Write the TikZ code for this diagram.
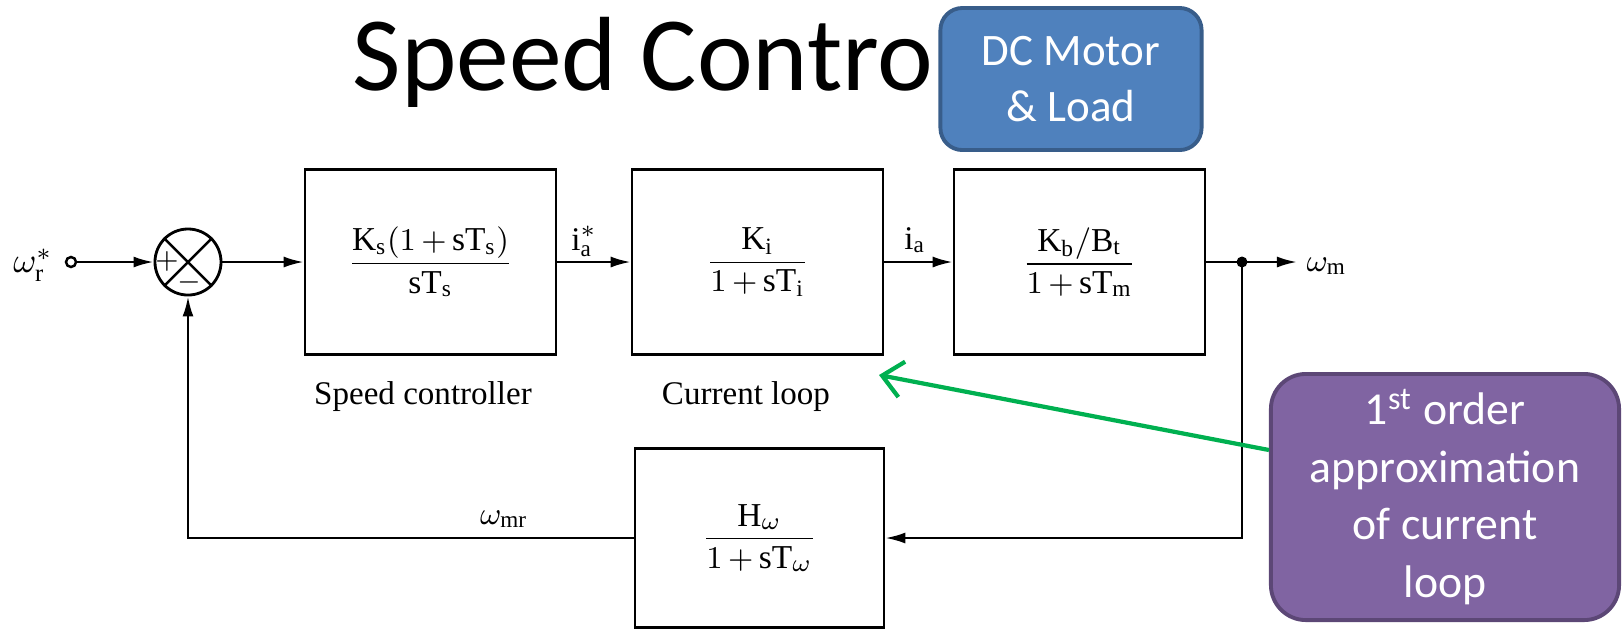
\documentclass[tikz,border=0pt]{standalone}
\usepackage{fontspec}
\setmainfont{Liberation Serif}
\newfontfamily\calibri{Carlito}
\usetikzlibrary{arrows.meta,calc}
\definecolor{dcblue}{HTML}{4F81BD}
\definecolor{dcblueb}{HTML}{385D8A}
\definecolor{purp}{HTML}{8064A2}
\definecolor{purpb}{HTML}{5C4776}
\definecolor{grn}{HTML}{00B050}
\newcommand{\rmx}[1]{\mathrm{#1}}
\newcommand{\pl}{\mathord{\,+\,}}
\begin{document}
\begin{tikzpicture}[x=0.01cm,y=-0.01cm,
  blk/.style={draw, line width=0.7pt, inner sep=0pt, font=\fontsize{9.5}{11}\selectfont},
  lbl/.style={inner sep=0pt, font=\fontsize{9.4}{11}\selectfont},
  sig/.style={line width=0.7pt, -{Latex[length=2mm,width=1.1mm]}},
  wire/.style={line width=0.7pt},
  callout/.style={rounded corners=3mm, line width=1.1pt, text=white, align=center, inner sep=0pt},
]
\useasboundingbox (0,0) rectangle (1623,629);

% title
\node[anchor=base west, inner sep=0pt, font=\calibri\fontsize{30}{36}\selectfont] (title) at (352,90) {Speed Contro};

% DC motor box
\node[callout, rounded corners=2.2mm, fill=dcblue, draw=dcblueb, minimum width=26.1mm, minimum height=14.2mm,
      font=\calibri\fontsize{12.8}{16}\selectfont] (dc) at (1071,79) {DC Motor\\\& Load};

% block diagram
\node[circle, draw, line width=0.7pt, inner sep=0pt, minimum size=1mm] (in) at (71,262) {};
\node[lbl, anchor=center, font=\fontsize{10}{12}\selectfont] (wr) at (33,265) {$\omega_{\rmx{r}}^{*}$};
\node[circle, draw, line width=0.8pt, inner sep=0pt, minimum size=6.6mm] (sum) at (188,262) {};
\draw[wire] (sum.north west) -- (sum.south east) (sum.north east) -- (sum.south west);
\node[lbl] (plus) at (167,261) {\fontsize{8}{9}\selectfont$+$};
\node[lbl] (minus) at (189,282) {\fontsize{8}{9}\selectfont$-$};

\node[blk, minimum width=25.1mm, minimum height=18.5mm] (sc) at (430.5,262)
  {$\displaystyle\frac{\rmx{K}_{\rmx{s}}(1\pl\rmx{sT}_{\rmx{s}})}{\rmx{sT}_{\rmx{s}}}$};
\node[blk, minimum width=25.1mm, minimum height=18.5mm] (cl) at (757.5,262)
  {$\displaystyle\frac{\rmx{K}_{\rmx{i}}}{1\pl\rmx{sT}_{\rmx{i}}}$};
\node[blk, minimum width=25.1mm, minimum height=18.5mm] (mo) at (1079.5,262)
  {$\displaystyle\frac{\rmx{K}_{\rmx{b}}/\rmx{B}_{\rmx{t}}}{1\pl\rmx{sT}_{\rmx{m}}}$};
\node[blk, minimum width=24.9mm, minimum height=17.9mm] (fb) at (759.5,538)
  {$\displaystyle\frac{\rmx{H}_{\omega}}{1\pl\rmx{sT}_{\omega}}$};

\node[lbl] (scl) at (423,397) {Speed controller};
\node[lbl] (cll) at (746,397) {Current loop};
\node[lbl] (ias) at (584,241) {$\rmx{i}_{\rmx{a}}^{*}$};
\node[lbl] (ia) at (915,240) {$\rmx{i}_{\rmx{a}}$};
\node[lbl] (wmr) at (504,519) {$\omega_{\rmx{mr}}$};

\node[circle, fill, inner sep=0pt, minimum size=1.1mm] (jn) at (1242,262) {};
\coordinate (out) at (1297,262);
\node[lbl, anchor=west] (wm) at (1306,266) {$\omega_{\rmx{m}}$};

\draw[sig] (in) -- (sum);
\draw[sig] (sum) -- (sc);
\draw[sig] (sc) -- (cl);
\draw[sig] (cl) -- (mo);
\draw[wire] (mo.east) -- (jn.center);
\draw[sig] (jn.center) -- (out);
\draw[sig] (jn.center) |- (fb.east);
\draw[sig] (fb.west) -| (sum.south);

% callout
\node[callout, rounded corners=3.5mm, fill=purp, draw=purpb, minimum width=34.8mm, minimum height=24.6mm,
      font=\calibri\fontsize{13}{16.4}\selectfont] (pc) at (1445,497)
  {1\textsuperscript{st} order\\approximation\\of current\\loop};
\coordinate (tip) at (879,375);
\draw[grn, line width=1.2pt, -{Straight Barb[length=2mm,width=3.6mm]}] ($(pc.west)+(0,-47)$) -- (tip);
\end{tikzpicture}
\end{document}
